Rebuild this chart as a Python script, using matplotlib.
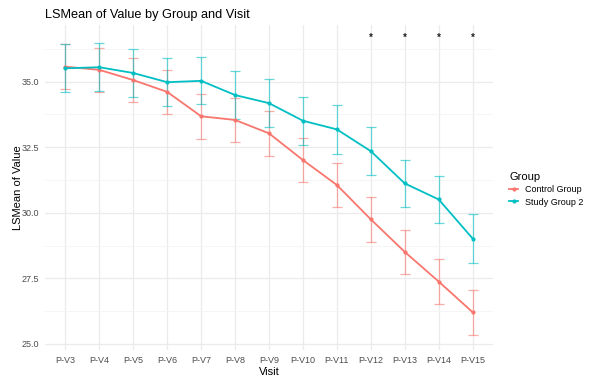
import numpy as np
import matplotlib
matplotlib.use("Agg")
from matplotlib import pyplot as plt
from matplotlib.lines import Line2D

plt.rcParams['font.family'] = ['Liberation Sans', 'DejaVu Sans']

visits = ["P-V3", "P-V4", "P-V5", "P-V6", "P-V7", "P-V8", "P-V9",
          "P-V10", "P-V11", "P-V12", "P-V13", "P-V14", "P-V15"]

control_mean = [35.57, 35.45, 35.06, 34.61, 33.68, 33.54, 33.03,
                32.01, 31.06, 29.75, 28.51, 27.38, 26.21]
control_err = [0.85, 0.85, 0.85, 0.85, 0.85, 0.85, 0.85,
               0.85, 0.85, 0.85, 0.85, 0.85, 0.85]

study_mean = [35.51, 35.55, 35.33, 34.98, 35.03, 34.49, 34.18,
              33.51, 33.18, 32.35, 31.12, 30.51, 29.02]
study_err = [0.91, 0.92, 0.91, 0.91, 0.90, 0.90, 0.91,
             0.91, 0.92, 0.91, 0.90, 0.91, 0.93]

signif_visits = ["P-V12", "P-V13", "P-V14", "P-V15"]
star_y = 36.66

RED = "#F8766D"
CYAN = "#00BFC4"

fig = plt.figure(figsize=(5.92, 3.79), dpi=100)
ax = fig.add_axes([45/592, 1-350/379, 448/592, 325/379])

x = np.arange(len(visits))

for mean, err, col in [(control_mean, control_err, RED), (study_mean, study_err, CYAN)]:
    ax.errorbar(x, mean, yerr=err, fmt='none', ecolor=col, alpha=0.6,
                elinewidth=0.9, capsize=3.3, capthick=0.9, zorder=3)
    ax.plot(x, mean, color=col, lw=1.3, marker='o', ms=2.0, zorder=4)

for v in signif_visits:
    ax.text(visits.index(v), star_y, "*", ha='center', va='center',
            fontsize=7, color='#222222', fontweight='bold')

ax.set_xlim(-0.6, len(visits) - 0.4)
ax.set_ylim(24.77, 37.16)
ax.set_xticks(x)
ax.set_xticklabels(visits)
ax.set_yticks([25.0, 27.5, 30.0, 32.5, 35.0])
ax.set_yticklabels(["25.0", "27.5", "30.0", "32.5", "35.0"])
ax.set_yticks([26.25, 28.75, 31.25, 33.75, 36.25], minor=True)

ax.grid(which='major', color='#EBEBEB', lw=0.9)
ax.grid(which='minor', axis='y', color='#F4F4F4', lw=0.6)
ax.set_axisbelow(True)
for s in ax.spines.values():
    s.set_visible(False)
ax.tick_params(which='both', length=0, labelsize=6.5, labelcolor='#4D4D4D')
ax.tick_params(axis='x', pad=4)
ax.tick_params(axis='y', pad=4)

ax.set_xlabel("Visit", fontsize=8, labelpad=2)
ax.set_ylabel("LSMean of Value", fontsize=8, labelpad=-1)
fig.text(45/592, 1-15/379, "LSMean of Value by Group and Visit",
         fontsize=9.2, ha='left', va='center')

handles = [Line2D([0], [0], color=RED, lw=1.3, marker='o', ms=2.0),
           Line2D([0], [0], color=CYAN, lw=1.3, marker='o', ms=2.0)]
leg = fig.legend(handles, ["Control Group", "Study Group 2"], title="Group",
                 loc='upper left', bbox_to_anchor=(503/592, 1-166/379),
                 frameon=False, fontsize=6.5, title_fontsize=8,
                 handlelength=1.0, handletextpad=0.7, labelspacing=0.35,
                 borderpad=0.2)
leg._legend_box.align = "left"

fig.savefig("out.png", dpi=100)
